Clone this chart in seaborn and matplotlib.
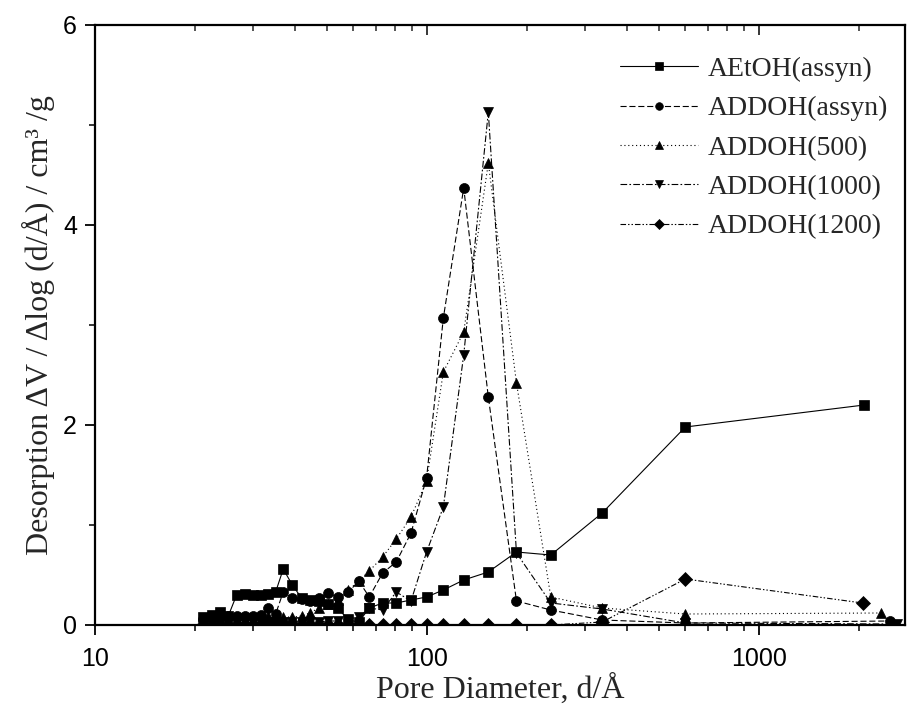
import numpy as np
import pandas as pd
import matplotlib
matplotlib.use("Agg")
import matplotlib.pyplot as plt
import matplotlib.ticker as mticker
import seaborn as sns

# ---------------- data ----------------
grid = [21.2, 22.5, 23.8, 25.2, 26.7, 28.3, 29.9, 31.6, 33.3, 35.0, 36.9, 39.3,
        41.9, 44.4, 47.2, 50.3, 53.8, 58.0, 62.3, 67.0, 73.5, 80.8, 89.5, 99.7,
        112, 129, 153, 186, 236, 337, 600]

aetoh_x = grid + [2075]
aetoh_y = [0.08, 0.10, 0.13, 0.09, 0.30, 0.31, 0.30, 0.30, 0.31, 0.33, 0.56, 0.40,
           0.27, 0.25, 0.24, 0.21, 0.17, 0.05, 0.03, 0.17, 0.22, 0.22, 0.25, 0.28,
           0.35, 0.45, 0.53, 0.73, 0.70, 1.12, 1.98, 2.20]

assyn_x = grid + [2480]
assyn_y = [0.06, 0.07, 0.08, 0.09, 0.09, 0.09, 0.09, 0.10, 0.17, 0.11, 0.33, 0.27,
           0.26, 0.24, 0.27, 0.32, 0.28, 0.33, 0.44, 0.28, 0.52, 0.63, 0.92, 1.47,
           3.07, 4.37, 2.28, 0.24, 0.15, 0.05, 0.02, 0.04]

a500_x = grid + [2324]
a500_y = [0.02, 0.03, 0.03, 0.04, 0.04, 0.04, 0.05, 0.06, 0.09, 0.08, 0.08, 0.08,
          0.09, 0.12, 0.17, 0.21, 0.25, 0.35, 0.44, 0.54, 0.68, 0.86, 1.08, 1.44,
          2.53, 2.93, 4.62, 2.42, 0.28, 0.17, 0.11, 0.12]

a1000_x = grid + [2600]
a1000_y = [0.01, 0.01, 0.02, 0.02, 0.02, 0.02, 0.02, 0.02, 0.03, 0.03, 0.03, 0.03,
           0.03, 0.03, 0.03, 0.04, 0.04, 0.06, 0.08, 0.17, 0.15, 0.33, 0.24, 0.73,
           1.18, 2.70, 5.13, 0.72, 0.22, 0.16, 0.02, 0.01]

a1200_x = grid + [2050]
a1200_y = [0.0, 0.0, 0.0, 0.0, 0.0, 0.0, 0.0, 0.0, 0.0, 0.0, 0.0, 0.0,
           0.0, 0.0, 0.0, 0.0, 0.0, 0.0, 0.0, 0.0, 0.0, 0.0, 0.0, 0.0,
           0.0, 0.0, 0.0, 0.0, 0.0, 0.03, 0.46, 0.22]

names = ["AEtOH(assyn)", "ADDOH(assyn)", "ADDOH(500)", "ADDOH(1000)", "ADDOH(1200)"]
xs = [aetoh_x, assyn_x, a500_x, a1000_x, a1200_x]
ys = [aetoh_y, assyn_y, a500_y, a1000_y, a1200_y]

x_label = "Pore Diameter, d/Å"
y_label = "Desorption ΔV / Δlog (d/Å) / cm³ /g"

df = pd.concat([pd.DataFrame({"d": x, "v": y, "series": n}) for n, x, y in zip(names, xs, ys)],
               ignore_index=True)

# ---------------- style ----------------
sns.set_theme(style="white")
plt.rcParams["font.family"] = ["Liberation Serif", "DejaVu Serif"]

fig = plt.figure(figsize=(9.07, 7.06), dpi=100)
ax = fig.add_axes([95 / 907, 81 / 706, 810 / 907, 600 / 706])

lw = 0.8
markers = {names[0]: "s", names[1]: "o", names[2]: "^", names[3]: "v", names[4]: "D"}
dashes = {names[0]: "", names[1]: (5.5, 2.5), names[2]: (1.0, 2.5),
          names[3]: (6, 2, 1.5, 2), names[4]: (5, 1.8, 1.3, 1.8, 1.3, 1.8)}
palette = {n: "black" for n in names}

sns.lineplot(data=df, x="d", y="v", hue="series", style="series", hue_order=names,
             style_order=names, markers=markers, dashes=dashes, palette=palette,
             estimator=None, sort=True, linewidth=lw, markersize=7.2,
             markeredgecolor="black", markeredgewidth=0.5, ax=ax, legend=True)

ax.set_xscale("log")
ax.set_xlim(10, 10 ** (1 + 810 / 332))
ax.set_ylim(0, 6)

ax.xaxis.set_major_locator(mticker.LogLocator(base=10, numticks=10))
ax.xaxis.set_minor_locator(mticker.LogLocator(base=10, subs=np.arange(2, 10), numticks=20))
ax.xaxis.set_major_formatter(mticker.FuncFormatter(lambda v, p: f"{int(round(v))}"))
ax.xaxis.set_minor_formatter(mticker.NullFormatter())
ax.yaxis.set_major_locator(mticker.MultipleLocator(2))
ax.yaxis.set_minor_locator(mticker.MultipleLocator(1))
ax.yaxis.set_major_formatter(mticker.FuncFormatter(lambda v, p: f"{int(v)}"))

for s in ax.spines.values():
    s.set_visible(True)
    s.set_color("black")
    s.set_linewidth(1.6)

ax.tick_params(axis="both", which="major", direction="out", length=7, width=1.3,
               colors="black", labelsize=18)
ax.tick_params(axis="x", which="major", pad=9)
ax.tick_params(axis="y", which="major", pad=6)
ax.tick_params(axis="both", which="minor", direction="out", length=4.5, width=1.1,
               colors="black")
ax.tick_params(axis="x", which="both", bottom=True, top=False)
ax.tick_params(axis="y", which="both", left=True, right=False)
for lab in ax.get_xticklabels() + ax.get_yticklabels():
    lab.set_family(["Liberation Sans", "DejaVu Sans"])

top = ax.secondary_xaxis("top")
top.set_xscale("log")
top.tick_params(axis="x", which="major", direction="in", length=7, width=1.3, labeltop=False)
top.tick_params(axis="x", which="minor", direction="in", length=4.5, width=1.1)
top.xaxis.set_major_formatter(mticker.NullFormatter())
top.xaxis.set_minor_formatter(mticker.NullFormatter())

ax.set_xlabel(x_label, fontsize=23, labelpad=2)
ax.set_ylabel(y_label, fontsize=23, labelpad=6)
ax.grid(False)

handles, labels = ax.get_legend_handles_labels()
for h in handles:
    h.set_markersize(5.5)
ax.legend(handles, labels, loc="upper right", bbox_to_anchor=(1.0, 0.975),
          frameon=False, fontsize=20, handlelength=2.8, handletextpad=0.35,
          labelspacing=0.5, borderaxespad=0.2)

fig.savefig("out.png", dpi=100)
